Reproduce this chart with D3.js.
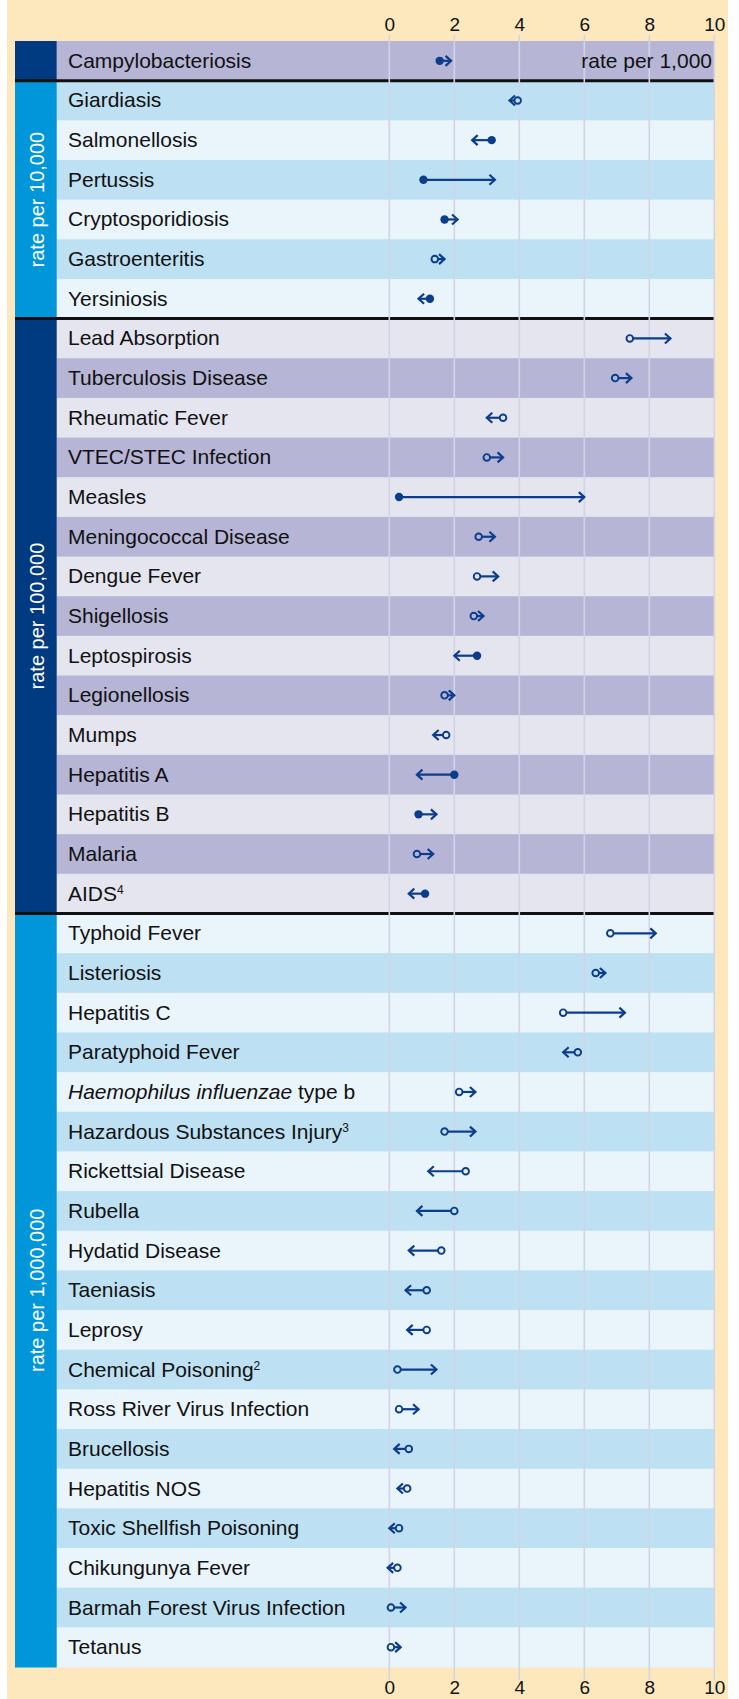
<!DOCTYPE html>
<html>
<head>
<meta charset="utf-8">
<script src="https://cdnjs.cloudflare.com/ajax/libs/d3/7.8.5/d3.min.js"></script>
<style>
  body { margin: 0; background: #fff; }
  svg text { font-family: "Liberation Sans", Arial, sans-serif; }
</style>
</head>
<body>
<div id="chart"></div>
<script>
var diseases = ["Campylobacteriosis",
  "Giardiasis", "Salmonellosis", "Pertussis", "Cryptosporidiosis", "Gastroenteritis", "Yersiniosis",
  "Lead Absorption", "Tuberculosis Disease", "Rheumatic Fever", "VTEC/STEC Infection", "Measles",
  "Meningococcal Disease", "Dengue Fever", "Shigellosis", "Leptospirosis", "Legionellosis", "Mumps",
  "Hepatitis A", "Hepatitis B", "Malaria", "AIDS",
  "Typhoid Fever", "Listeriosis", "Hepatitis C", "Paratyphoid Fever", "Haemophilus influenzae type b",
  "Hazardous Substances Injury", "Rickettsial Disease", "Rubella", "Hydatid Disease", "Taeniasis",
  "Leprosy", "Chemical Poisoning", "Ross River Virus Infection", "Brucellosis", "Hepatitis NOS",
  "Toxic Shellfish Poisoning", "Chikungunya Fever", "Barmah Forest Virus Infection", "Tetanus"
];
var footnotes = {"AIDS": "4", "Hazardous Substances Injury": "3", "Chemical Poisoning": "2"};

var groupNames = ["rate per 1,000", "rate per 10,000", "rate per 100,000", "rate per 1,000,000"];
var groupSizes = [1, 6, 15, 19];

// circle = where the rate was, arrow = where it went
var fromRate = [1.55,
  3.95, 3.15, 1.05, 1.7, 1.4, 1.25,
  7.4, 6.95, 3.5, 3.0, 0.3, 2.75, 2.7, 2.6, 2.7, 1.7, 1.75, 2.0, 0.9, 0.85, 1.1,
  6.8, 6.35, 5.35, 5.8, 2.15, 1.7, 2.35, 2.0, 1.6, 1.15, 1.15, 0.25, 0.3, 0.6, 0.55, 0.3, 0.25, 0.05, 0.05];
var toRate = [1.9,
  3.7, 2.55, 3.25, 2.1, 1.7, 0.9,
  8.65, 7.45, 3.0, 3.5, 6.0, 3.25, 3.35, 2.9, 2.0, 2.0, 1.35, 0.85, 1.45, 1.35, 0.6,
  8.2, 6.65, 7.25, 5.35, 2.65, 2.65, 1.2, 0.85, 0.6, 0.5, 0.55, 1.45, 0.9, 0.15, 0.25, 0.0, -0.05, 0.5, 0.35];
var filled = [1,
  0, 1, 1, 1, 0, 1,
  0, 0, 0, 0, 1, 0, 0, 0, 1, 0, 0, 1, 1, 0, 1,
  0, 0, 0, 0, 0, 0, 0, 0, 0, 0, 0, 0, 0, 0, 0, 0, 0, 0, 0];

var xTicks = [0, 2, 4, 6, 8, 10];

var W = 739, H = 1699;
var bandX = 15, rowX = 56.7, rowEnd = 715;
var rowColors = [["#e5e5f0", "#b6b5d6"], ["#e9f4fb", "#bde0f3"]];
var bandColors = ["#003a80", "#0096d9"];
var markColor = "#0c3d8c";

var svg = d3.select("#chart").append("svg")
    .attr("width", W)
    .attr("height", H);

// yellow panel
svg.append("rect")
    .attr("x", 7).attr("y", 0)
    .attr("width", 721).attr("height", H)
    .style("fill", "#fde8be");

var x = d3.scaleLinear().domain([0, 10]).range([389.3, 714.3]);
var y = d3.scaleBand().domain(d3.range(diseases.length)).range([41, 1667]);

// work out which group every row is in
var rowGroup = [], rowInGroup = [], groupStart = [];
var k = 0;
groupSizes.forEach(function(n, g) {
  groupStart.push(k);
  for (var i = 0; i < n; i++) { rowGroup.push(g); rowInGroup.push(i); k++; }
});
// first two groups start on the darker shade, the others on the lighter one
var firstDark = [1, 1, 0, 0];

function rowFill(i) {
  var g = rowGroup[i];
  var dark = (rowInGroup[i] + firstDark[g]) % 2;
  return rowColors[g % 2][dark];
}

// rows
svg.append("g").selectAll("rect")
    .data(diseases)
  .enter().append("rect")
    .attr("x", rowX)
    .attr("y", function(d, i) { return y(i); })
    .attr("width", rowEnd - rowX)
    .attr("height", y.bandwidth() + 0.5)
    .style("fill", function(d, i) { return rowFill(i); });

// side bands
svg.append("g").selectAll("rect")
    .data(groupSizes)
  .enter().append("rect")
    .attr("x", bandX)
    .attr("y", function(d, g) { return y(groupStart[g]); })
    .attr("width", rowX - bandX)
    .attr("height", function(d) { return d * y.bandwidth() + 0.5; })
    .style("fill", function(d, g) { return bandColors[g % 2]; });

svg.append("g").selectAll("text")
    .data(groupNames.slice(1))
  .enter().append("text")
    .attr("transform", function(d, i) {
      var g = i + 1;
      var mid = y(groupStart[g]) + groupSizes[g] * y.bandwidth() / 2;
      return "translate(44," + mid + ") rotate(-90)";
    })
    .attr("text-anchor", "middle")
    .style("font-size", "20px")
    .style("fill", "#fff")
    .text(function(d) { return d; });

// black separators between groups
svg.append("g").selectAll("line")
    .data(groupStart.slice(1))
  .enter().append("line")
    .attr("x1", bandX).attr("x2", rowEnd)
    .attr("y1", function(d) { return y(d); })
    .attr("y2", function(d) { return y(d); })
    .style("stroke", "#111")
    .style("stroke-width", 3);

// grid
svg.append("g").selectAll("line")
    .data(xTicks)
  .enter().append("line")
    .attr("x1", function(d) { return x(d); })
    .attr("x2", function(d) { return x(d); })
    .attr("y1", 35).attr("y2", 1680)
    .style("stroke", "#d3d3e6")
    .style("stroke-width", 1.6);

// axes
var topAxis = svg.append("g")
    .attr("transform", "translate(0,31)")
    .call(d3.axisTop(x).tickValues(xTicks).tickSize(0).tickPadding(0));
var bottomAxis = svg.append("g")
    .attr("transform", "translate(0,1680)")
    .call(d3.axisBottom(x).tickValues(xTicks).tickSize(0).tickPadding(0));
[topAxis, bottomAxis].forEach(function(a) {
  a.select(".domain").remove();
  a.selectAll("text")
      .style("font-family", "'Liberation Sans', Arial, sans-serif")
      .style("font-size", "19px")
      .style("fill", "#111");
});

// labels
var labels = svg.append("g").selectAll("text")
    .data(diseases)
  .enter().append("text")
    .attr("x", 68)
    .attr("y", function(d, i) { return y(i) + y.bandwidth() / 2 + 7; })
    .style("font-size", "21px")
    .style("fill", "#111");

labels.each(function(d) {
  var t = d3.select(this);
  if (d.indexOf("Haemophilus") == 0) {
    t.append("tspan").style("font-style", "italic").text("Haemophilus influenzae");
    t.append("tspan").text(" type b");
  } else {
    t.append("tspan").text(d);
  }
  if (footnotes[d]) {
    t.append("tspan")
        .attr("dy", -7)
        .style("font-size", "12px")
        .text(footnotes[d]);
  }
});

svg.append("text")
    .attr("x", 712)
    .attr("y", y(0) + y.bandwidth() / 2 + 7)
    .attr("text-anchor", "end")
    .style("font-size", "21px")
    .style("fill", "#111")
    .text(groupNames[0]);

// arrows
var marks = svg.append("g").selectAll("g")
    .data(diseases)
  .enter().append("g")
    .attr("transform", function(d, i) { return "translate(0," + (y(i) + y.bandwidth() / 2) + ")"; });

marks.append("line")
    .attr("x1", function(d, i) { return x(fromRate[i]); })
    .attr("x2", function(d, i) { return x(toRate[i]); })
    .style("stroke", markColor)
    .style("stroke-width", 2.2);

marks.append("path")
    .attr("d", function(d, i) {
      var tip = x(toRate[i]);
      var dir = toRate[i] >= fromRate[i] ? 1 : -1;
      return "M" + (tip - dir * 5.5) + ",-5L" + tip + ",0L" + (tip - dir * 5.5) + ",5";
    })
    .style("fill", "none")
    .style("stroke", markColor)
    .style("stroke-width", 2.2);

marks.append("circle")
    .attr("cx", function(d, i) { return x(fromRate[i]); })
    .attr("r", function(d, i) { return filled[i] ? 4.2 : 3.3; })
    .style("fill", function(d, i) { return filled[i] ? markColor : rowFill(i); })
    .style("stroke", markColor)
    .style("stroke-width", function(d, i) { return filled[i] ? 0 : 1.9; });
</script>
</body>
</html>
